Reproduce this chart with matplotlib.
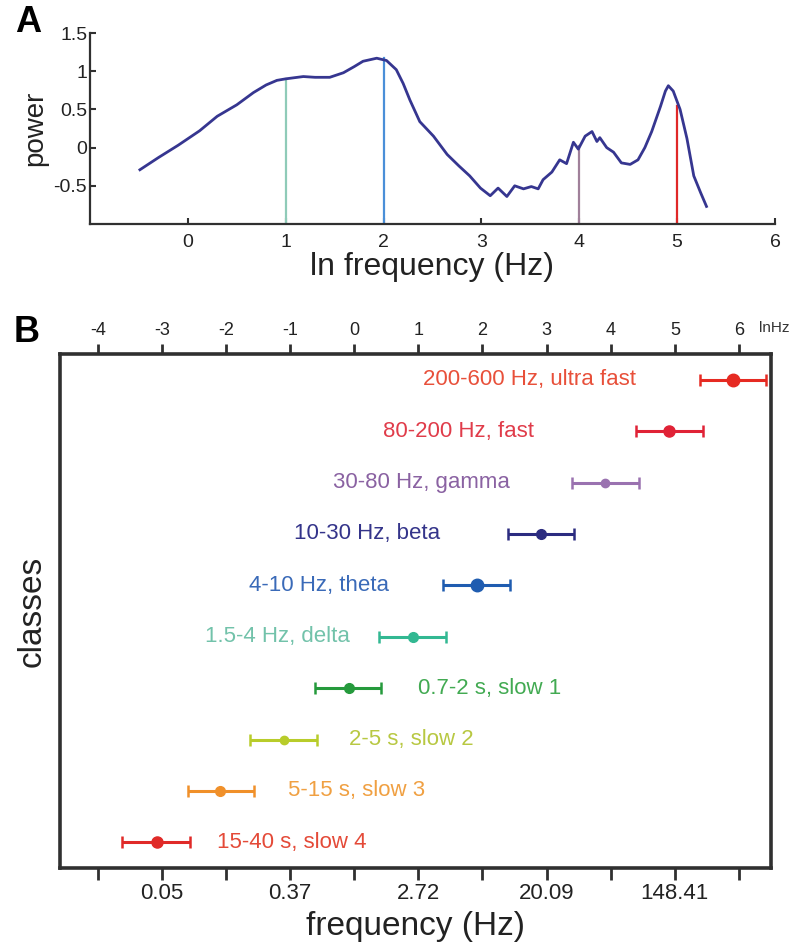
#!/usr/bin/env python3
"""
Power spectrum (A) and frequency classes on a log axis (B).
"""

import matplotlib
matplotlib.use("Agg")
import matplotlib.pyplot as plt
import numpy as np

plt.rcParams["font.family"] = ["Liberation Sans", "DejaVu Sans"]

# --- panel A: power spectrum ---
ln_freq = [-0.49, -0.30, -0.10, 0.12, 0.30, 0.50, 0.67, 0.80, 0.91, 1.00,
           1.18, 1.30, 1.45, 1.59, 1.70, 1.79, 1.93, 2.03, 2.13, 2.20,
           2.27, 2.37, 2.51, 2.65, 2.77, 2.88, 2.99, 3.09, 3.17, 3.26,
           3.34, 3.43, 3.51, 3.58, 3.63, 3.72, 3.80, 3.87, 3.94, 3.99,
           4.06, 4.13, 4.18, 4.21, 4.28, 4.35, 4.43, 4.52, 4.60, 4.67,
           4.74, 4.83, 4.88, 4.91, 4.96, 5.03, 5.10, 5.17, 5.24, 5.30]
power = [-0.29, -0.13, 0.03, 0.22, 0.41, 0.56, 0.72, 0.82, 0.88, 0.90,
         0.93, 0.92, 0.92, 0.98, 1.06, 1.13, 1.17, 1.14, 1.02, 0.84,
         0.62, 0.34, 0.15, -0.09, -0.24, -0.37, -0.53, -0.63, -0.53, -0.64,
         -0.50, -0.54, -0.51, -0.54, -0.42, -0.32, -0.16, -0.21, 0.07, -0.02,
         0.15, 0.21, 0.08, 0.13, 0.00, -0.06, -0.20, -0.22, -0.16, 0.00,
         0.21, 0.54, 0.74, 0.81, 0.74, 0.50, 0.12, -0.37, -0.59, -0.77]
marker_ln = [1, 2, 4, 5]
marker_top = [0.90, 1.17, 0.02, 0.55]
marker_colors = ["#8fcbb8", "#4a8fd8", "#a0809a", "#e02828"]

# --- panel B: frequency classes (ln Hz) ---
classes = ["200-600 Hz, ultra fast", "80-200 Hz, fast", "30-80 Hz, gamma",
           "10-30 Hz, beta", "4-10 Hz, theta", "1.5-4 Hz, delta",
           "0.7-2 s, slow 1", "2-5 s, slow 2", "5-15 s, slow 3",
           "15-40 s, slow 4"]
class_lo = [5.40, 4.40, 3.40, 2.39, 1.39, 0.39, -0.62, -1.62, -2.60, -3.63]
class_mid = [5.90, 4.91, 3.91, 2.92, 1.92, 0.92, -0.09, -1.10, -2.10, -3.08]
class_hi = [6.42, 5.44, 4.44, 3.43, 2.43, 1.43, 0.42, -0.58, -1.56, -2.57]
bar_colors = ["#e62a22", "#e02236", "#9a72b0", "#2c2c80", "#1f5cb0",
              "#32b892", "#259a3c", "#b8cc2a", "#f0902a", "#e02a28"]
text_colors = ["#e8503a", "#e03c4a", "#8a62a2", "#34348a", "#3a6ab8",
               "#72c2aa", "#42aa52", "#b8c842", "#f0a042", "#e44a38"]
# label anchor: right edge for the upper six rows, left edge for the slow rows
label_x = [4.40, 2.81, 2.43, 1.34, 0.54, -0.07, 1.00, -0.09, -1.03, -2.14]
label_ha = ["right"] * 6 + ["left"] * 4
dot_size = [9, 8, 6, 7, 9, 7, 7, 6, 7, 8]

top_ticks = [-4, -3, -2, -1, 0, 1, 2, 3, 4, 5, 6]
bottom_labels = ["", "0.05", "", "0.37", "", "2.72", "", "20.09", "",
                 "148.41", ""]

INK = "#303030"

fig = plt.figure(figsize=(8.01, 9.48), dpi=100)

# ---------------- panel A ----------------
ax1 = fig.add_axes([90 / 801, 1 - 224 / 948, 685 / 801, 191 / 948])
ax1.plot(ln_freq, power, color="#363690", linewidth=2.0, zorder=3)
for x, top, c in zip(marker_ln, marker_top, marker_colors):
    ax1.plot([x, x], [-1, top], color=c, linewidth=1.6, zorder=2)
ax1.set_xlim(-1, 6)
ax1.set_ylim(-1, 1.5)
ax1.set_xticks(range(0, 7))
ax1.set_yticks([-0.5, 0, 0.5, 1, 1.5], ["-0.5", "0", "0.5", "1", "1.5"])
for side in ("top", "right"):
    ax1.spines[side].set_visible(False)
for side in ("left", "bottom"):
    ax1.spines[side].set_linewidth(1.6)
    ax1.spines[side].set_color(INK)
ax1.tick_params(direction="in", length=4, width=1.5, color=INK,
                labelsize=14, labelcolor="#222222")
ax1.tick_params(axis="x", pad=7)
ax1.tick_params(axis="y", pad=2)
ax1.set_xlabel("ln frequency (Hz)", fontsize=23, color="#222222", labelpad=1)
ax1.set_ylabel("power", fontsize=20, color="#222222", labelpad=4)

# ---------------- panel B ----------------
ax2 = fig.add_axes([60 / 801, 80 / 948, 711 / 801, 514 / 948])
rows = np.arange(len(classes), 0, -1)
for i, name in enumerate(classes):
    y = rows[i]
    ax2.errorbar(class_mid[i], y,
                 xerr=[[class_mid[i] - class_lo[i]], [class_hi[i] - class_mid[i]]],
                 fmt="o", color=bar_colors[i], ms=dot_size[i], elinewidth=2.2,
                 capsize=4, capthick=1.8)
    ax2.text(label_x[i], y, name, ha=label_ha[i], va="center",
             fontsize=16, color=text_colors[i])
ax2.set_xlim(-4.59, 6.50)
ax2.set_ylim(0.5, 10.5)
ax2.set_yticks([])
ax2.set_xticks(top_ticks, bottom_labels)
for sp in ax2.spines.values():
    sp.set_linewidth(2.6)
    sp.set_color(INK)
ax2.tick_params(axis="x", direction="out", length=8.5, width=2, color=INK,
                labelsize=16, pad=2, labelcolor="#222222")
ax2.set_xlabel("frequency (Hz)", fontsize=24, color="#222222", labelpad=5)
ax2.set_ylabel("classes", fontsize=24, color="#222222", labelpad=9)

axt = ax2.twiny()
axt.set_xlim(ax2.get_xlim())
axt.set_xticks(top_ticks, [str(t) for t in top_ticks])
axt.tick_params(axis="x", direction="out", length=7, width=2, color=INK,
                labelsize=13, pad=4, labelcolor="#222222")
for sp in axt.spines.values():
    sp.set_visible(False)
fig.text(759 / 801, 1 - 328 / 948, "lnHz", fontsize=11, color="#333333",
         ha="left", va="center")

fig.text(28 / 801, 1 - 22 / 948, "A", fontsize=26, fontweight="bold",
         ha="center", va="center")
fig.text(27 / 801, 1 - 333 / 948, "B", fontsize=26, fontweight="bold",
         ha="center", va="center")

fig.savefig("out.png", dpi=100)
